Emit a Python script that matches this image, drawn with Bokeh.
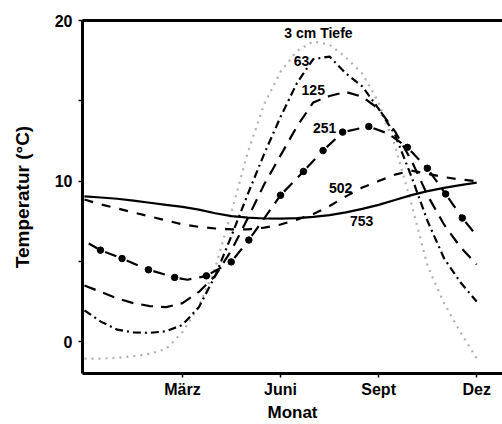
from bokeh.plotting import figure
from bokeh.models import ColumnDataSource, FixedTicker, LinearAxis, Range1d
from bokeh.core.properties import value
from bokeh.embed import file_html
from bokeh.resources import INLINE

# Soil temperature through the year at several depths (cm)
month = [0.0, 0.5, 1.0, 1.5, 2.0, 2.5, 3.0, 3.5, 4.0, 4.5, 5.0, 5.5, 6.0,
         6.5, 7.0, 7.5, 8.0, 8.5, 9.0, 9.5, 10.0, 10.5, 11.0, 11.5, 12.0]

t_3 = [-1.05, -1.05, -1.0, -0.9, -0.75, -0.45, 0.6, 2.2, 4.6, 8.1, 11.8, 14.8, 16.8,
       18.1, 18.7, 18.5, 17.7, 16.7, 14.9, 12.2, 8.6, 4.7, 2.4, 0.6, -1.05]
t_63 = [1.95, 1.25, 0.75, 0.58, 0.55, 0.65, 1.05, 2.15, 4.1, 6.6, 9.2, 11.7, 14.0,
        16.1, 17.6, 17.75, 16.7, 15.9, 14.5, 12.9, 10.3, 7.5, 5.2, 3.7, 2.5]
t_125 = [3.5, 3.1, 2.7, 2.4, 2.22, 2.15, 2.4, 3.1, 4.1, 5.7, 7.7, 9.8, 11.6,
         13.4, 14.9, 15.3, 15.55, 15.25, 14.5, 13.1, 11.3, 9.1, 7.3, 5.9, 4.8]
t_502 = [8.85, 8.55, 8.3, 8.05, 7.8, 7.55, 7.3, 7.15, 7.05, 7.0, 7.0, 7.1, 7.3,
         7.6, 7.95, 8.45, 9.05, 9.6, 10.0, 10.4, 10.65, 10.45, 10.25, 10.1, 10.0]
t_753 = [9.05, 8.98, 8.9, 8.78, 8.65, 8.52, 8.4, 8.22, 8.0, 7.82, 7.72, 7.67, 7.66,
         7.7, 7.77, 7.88, 8.05, 8.27, 8.52, 8.82, 9.13, 9.38, 9.58, 9.75, 9.9]

# 251 cm series: curve points, with a flag for the points drawn as bullets
m_251 = [0.0, 0.49, 1.15, 1.96, 2.76, 3.15, 3.73, 4.49, 5.03, 6.0, 6.7, 7.3,
         7.9, 8.7, 9.3, 9.88, 10.49, 11.05, 11.56, 12.0]
t_251 = [6.27, 5.7, 5.18, 4.48, 4.0, 3.86, 4.1, 4.97, 6.33, 9.12, 10.6, 11.9,
         13.05, 13.4, 12.95, 12.1, 10.8, 9.2, 7.7, 6.6]
dot_251 = [0, 1, 1, 1, 1, 0, 1, 1, 1, 1, 1, 1, 1, 1, 0, 1, 1, 1, 1, 0]

tick_months = [3, 6, 9, 12]
tick_names = ["März", "Juni", "Sept", "Dez"]

label_text = ["3 cm Tiefe", "63", "125", "251", "502", "753"]
label_month = [7.16, 6.64, 7.0, 7.35, 7.84, 8.48]
label_temp = [19.2, 17.5, 15.67, 13.3, 9.6, 7.5]

FONT = "Liberation Sans"

p = figure(width=502, height=424, output_backend="svg", toolbar_location=None,
           x_range=Range1d(-0.06, 12.79), y_range=Range1d(-1.98, 20),
           min_border_left=82, min_border_right=0, min_border_top=20,
           min_border_bottom=49)
p.outline_line_color = None
p.grid.visible = False
p.background_fill_color = "white"
p.border_fill_color = "white"

# axes
for ax in (p.xaxis[0], p.yaxis[0]):
    ax.axis_line_width = 3
    ax.axis_line_color = "black"
    ax.major_tick_in = 0
    ax.major_tick_out = 4
    ax.minor_tick_in = 0
    ax.minor_tick_out = 4
    ax.major_tick_line_width = 1.5
    ax.minor_tick_line_width = 1.5
    ax.major_label_text_font = FONT
    ax.major_label_text_font_style = "bold"
    ax.major_label_text_font_size = "16px"
    ax.major_label_text_color = "black"
    ax.axis_label_text_font = FONT
    ax.axis_label_text_font_style = "bold"
    ax.axis_label_text_font_size = "17px"
    ax.axis_label_text_color = "black"

p.xaxis.ticker = FixedTicker(ticks=tick_months, minor_ticks=[])
p.xaxis.major_label_overrides = {m: n for m, n in zip(tick_months, tick_names)}
p.xaxis.axis_label = "Monat"
p.xaxis.major_label_standoff = 3
p.xaxis.axis_label_standoff = 2

p.yaxis.ticker = FixedTicker(ticks=[0, 10, 20], minor_ticks=[5, 15])
p.yaxis.axis_label = "Temperatur (°C)"
p.yaxis.axis_label_text_font_size = "19px"
p.yaxis.major_label_standoff = 6
p.yaxis.axis_label_standoff = 19

top = LinearAxis(ticker=FixedTicker(ticks=[]), axis_line_width=3,
                 major_label_text_font_size="0px")
p.add_layout(top, "above")

# curves
p.line(month, t_3, line_color="#b0b0b0", line_width=2.2, line_dash="2 5")
p.line(month, t_63, line_color="black", line_width=2.2, line_dash="8 4 2 4")
p.line(month, t_125, line_color="black", line_width=2.2, line_dash="12 8")
p.line(month, t_502, line_color="black", line_width=2.2, line_dash="9 9")
p.line(month, t_753, line_color="black", line_width=2.2)

# 251: dashes between bullets
breaks = [i for i, d in enumerate(dot_251) if d]
breaks = [0] + breaks + [len(m_251) - 1]
xs, ys = [], []
for a, b in zip(breaks[:-1], breaks[1:]):
    xs.append(m_251[a:b + 1])
    ys.append(t_251[a:b + 1])
p.multi_line(xs, ys, line_color="black", line_width=2.2, line_dash="12 8",
             line_dash_offset=15)
bx = [m for m, d in zip(m_251, dot_251) if d]
by = [t for t, d in zip(t_251, dot_251) if d]
p.scatter(bx, by, size=6.5, marker="circle", fill_color="black", line_color="black")

src = ColumnDataSource(dict(x=label_month, y=label_temp, text=label_text))
p.text(x="x", y="y", text="text", source=src, text_font=value(FONT),
       text_font_style="bold", text_font_size="14px", text_align="center",
       text_baseline="middle", text_color="black")

open("out.html", "w").write(file_html(p, INLINE))
